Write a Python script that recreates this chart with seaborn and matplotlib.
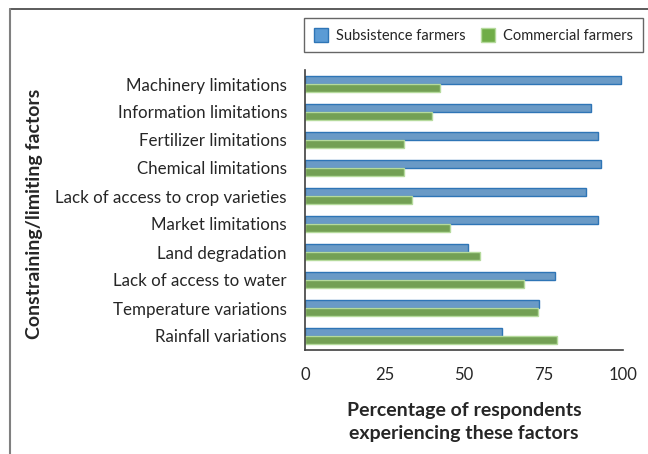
import pandas as pd
import matplotlib
matplotlib.use("Agg")
import matplotlib.pyplot as plt
from matplotlib.lines import Line2D
from matplotlib.ticker import FixedLocator
import seaborn as sns

# Data
factors = ["Machinery limitations", "Information limitations", "Fertilizer limitations",
           "Chemical limitations", "Lack of access to crop varieties", "Market limitations",
           "Land degradation", "Lack of access to water", "Temperature variations",
           "Rainfall variations"]
subsistence = [99.3, 89.8, 92.2, 93.0, 88.3, 92.2, 51.3, 78.5, 73.6, 61.8]
commercial = [42.5, 40.0, 31.2, 31.2, 33.5, 45.6, 55.0, 68.8, 73.3, 79.1]
groups = ["Subsistence farmers", "Commercial farmers"]
xticks = [0, 25, 50, 75, 100]

df = pd.DataFrame({
    "Factor": factors * 2,
    "Percent": subsistence + commercial,
    "Group": [groups[0]] * len(factors) + [groups[1]] * len(factors),
})

sns.set_style("white")
plt.rcParams['font.family'] = ['Lato', 'DejaVu Sans']

fig = plt.figure(figsize=(6.48, 4.54), dpi=100)
ax = fig.add_axes([305/648, 1 - 350/454, 318/648, 280/454])

sns.barplot(data=df, x="Percent", y="Factor", hue="Group", order=factors,
            hue_order=groups, palette=["#5B9BD5", "#70AD47"], orient="h",
            width=0.6, ax=ax, legend=False)

# bar edges
for i, cont in enumerate(ax.containers):
    for bar in cont:
        bar.set_edgecolor("#2E75B6" if i == 0 else "#B5DA9C")
        bar.set_linewidth(1.0)

ax.set_xlim(0, 100)
ax.set_ylim(len(factors) - 0.5, -0.5)
ax.set_xticks(xticks)
ax.set_xticklabels([str(t) for t in xticks], fontsize=12, color="#262626")
ax.tick_params(axis="y", which="major", length=0, pad=13, labelsize=12.2, labelcolor="#262626")
ax.yaxis.set_minor_locator(FixedLocator([i - 0.5 for i in range(len(factors) + 1)]))
ax.tick_params(axis="y", which="minor", length=5, width=1, color="#404040", direction="out")
ax.tick_params(axis="x", length=5, width=1, color="#404040", direction="out", pad=7)

for s in ["top", "right"]:
    ax.spines[s].set_visible(False)
for s in ["left", "bottom"]:
    ax.spines[s].set_color("#404040")
    ax.spines[s].set_linewidth(1.2)

ax.set_xlabel("Percentage of respondents\nexperiencing these factors", fontsize=14,
              fontweight="bold", color="#262626", labelpad=14, linespacing=1.45)
ax.set_ylabel("")
fig.text(35/648, 1 - 214/454, "Constraining/limiting factors", rotation=90, fontsize=14,
         fontweight="bold", color="#262626", ha="center", va="center")

# legend
handles = [plt.Rectangle((0, 0), 1, 1, facecolor="#5B9BD5", edgecolor="#2E75B6"),
           plt.Rectangle((0, 0), 1, 1, facecolor="#70AD47", edgecolor="#B5DA9C")]
leg = fig.legend(handles, groups, loc="upper right", bbox_to_anchor=(647/648, 1 - 14/454),
                 ncol=2, fontsize=10.5, frameon=True, fancybox=False, handlelength=1.0,
                 handleheight=1.1, columnspacing=1.0, handletextpad=0.55, borderpad=0.65,
                 borderaxespad=0.3)
leg.get_frame().set_edgecolor("#404040")
leg.get_frame().set_linewidth(1.0)

# outer frame (top and left)
fig.add_artist(Line2D([10/648, 1], [1 - 9/454, 1 - 9/454], color="#404040", lw=1.2))
fig.add_artist(Line2D([10/648, 10/648], [0, 1 - 9/454], color="#808080", lw=1.5))

fig.savefig("out.png", dpi=100)
